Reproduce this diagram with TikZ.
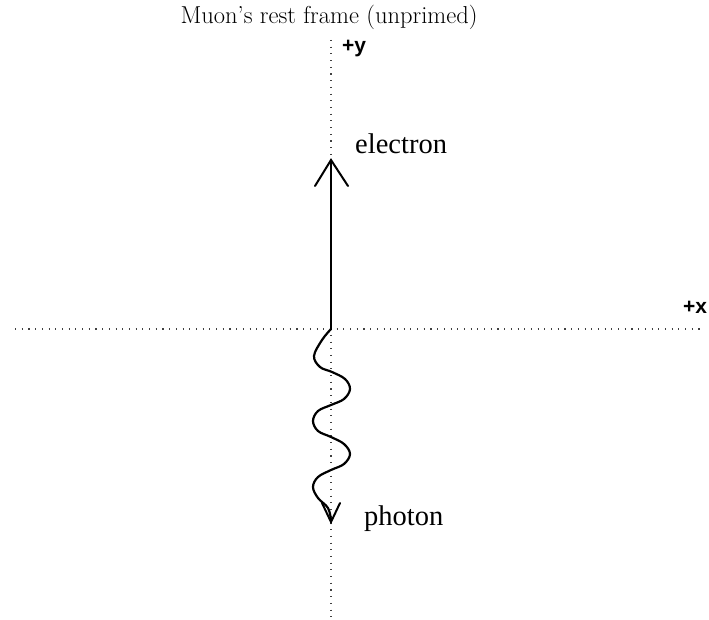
\documentclass[tikz,border=0pt]{standalone}
\usepackage{fontspec}
\newfontfamily\lserif{Liberation Serif}
\newfontfamily\lsans{Liberation Sans}
\begin{document}
\begin{tikzpicture}[x=1pt,y=-1pt,
  axisline/.style={line width=1.1pt,black!75,dash pattern=on 1.1pt off 5.6pt},
  particle/.style={line width=2.2pt,black,line cap=round,line join=round},
  wing/.style={line width=2pt,black,line cap=round},
  lab/.style={inner sep=0pt,font=\lserif\fontsize{28.5}{30}\selectfont},
  axlab/.style={inner sep=0pt,font=\lsans\bfseries\fontsize{21}{23}\selectfont}]
\useasboundingbox (0,0) rectangle (709,620);
\node[anchor=base,inner sep=0pt,font=\fontsize{24.5}{28}\selectfont] (title) at (329,24) {Muon's rest frame (unprimed)};
\coordinate (ytop) at (331,40);
\coordinate (ybot) at (331,617);
\coordinate (xleft) at (15,329);
\coordinate (xright) at (702,329);
\draw[axisline] (ytop) -- (ybot);
\draw[axisline] (xleft) -- (xright);
\node[axlab,anchor=base west] (ylab) at (342,53) {+y};
\node[axlab,anchor=base west] (xlab) at (683,313) {+x};
\coordinate (o) at (331,329);
\coordinate (etip) at (331,160);
\coordinate (ewl) at (315,186);
\coordinate (ewr) at (348,186);
\draw[particle] (o) -- (etip);
\draw[wing] (ewl) -- (etip) -- (ewr);
\node[lab,anchor=base west] (elec) at (355,154) {electron};
\coordinate (ptip) at (331,522);
\coordinate (pwl) at (322,503);
\coordinate (pwr) at (340,503);
\draw[particle] plot[smooth,tension=0.6] coordinates {(o) (322,340) (314,356) (320,367) (332,372) (345,379) (350,389) (344,399) (331,405) (318,411) (313,421) (318,431) (331,437) (344,444) (350,454) (344,464) (331,470) (318,477) (313,487) (318,498) (328,508) (331,520)};
\draw[wing] (pwl) -- (ptip) -- (pwr);
\node[lab,anchor=base west] (phot) at (364,525) {photon};
\end{tikzpicture}
\end{document}
